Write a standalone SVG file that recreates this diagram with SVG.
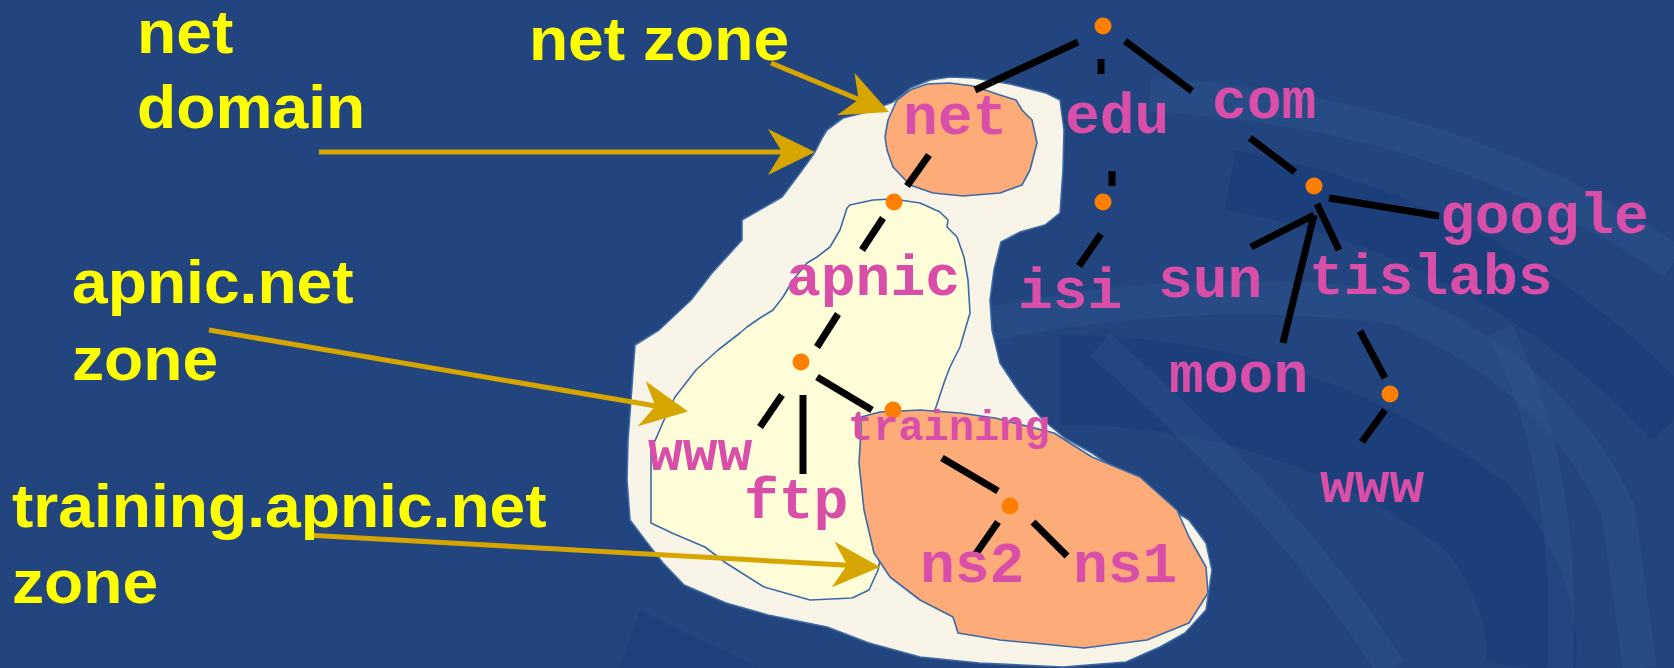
<svg xmlns="http://www.w3.org/2000/svg" width="1674" height="668" viewBox="0 0 1674 668">
<style>
.lbl{font-family:"Liberation Sans",Arial,sans-serif;font-weight:bold;font-size:62px;fill:#ffff00}
.nm{font-family:"Liberation Mono","Courier New",monospace;font-weight:bold;font-size:58px;fill:#d84ea9}
.nms{font-family:"Liberation Mono","Courier New",monospace;font-weight:bold;font-size:42px;fill:#d84ea9}
.blob{stroke:#3d6aa5;stroke-width:1.6;stroke-linejoin:round}
.cream{fill:#f8f5e8}
.yel{fill:#fffed8}
.peach{fill:#fdab78}
.edge{stroke:#000;stroke-width:7;fill:none}
.dot{fill:#ff8000}
.arr{stroke:#d6a500;stroke-width:5;fill:none}
.lt{stroke:#3b6098;fill:none;opacity:0.24}
.dk{stroke:#153777;fill:none;opacity:0.4}
</style>
<defs>
<marker id="head" markerUnits="userSpaceOnUse" viewBox="0 0 48 48" markerWidth="48" markerHeight="48" refX="19" refY="24" orient="auto">
<path d="M47 24 L0 1 L14 24 L0 47 Z" fill="#d6a500"/>
</marker>
</defs>
<g id="background">
<rect width="1674" height="668" fill="#22457f"/>
<path class="dk" d="M1060 380 Q1300 380 1480 520 Q1540 600 1530 668" stroke-width="90"/>
<path class="dk" d="M1230 180 Q1500 230 1674 420" stroke-width="60"/>
<path class="lt" d="M980 326 Q1200 280 1400 308 Q1560 380 1618 510 L1640 668" stroke-width="34"/>
<path class="lt" d="M1150 95 Q1450 110 1674 262" stroke-width="34"/>
<path class="lt" d="M1100 345 Q1300 520 1390 668" stroke-width="30"/>
<path class="lt" d="M1500 330 Q1570 470 1560 668" stroke-width="26"/>
<path d="M620 668 L640 610 L700 640 L760 668 Z" fill="#163a79" opacity="0.4"/>
</g>
<g id="net-domain-zone">
<path class="blob cream" d="M815 152 L822 138 L827 130 L843 118 L867 112 L893 102 L910 88 L930 80 L950 77 L974 78 L1010 84 L1046 93 L1060 100 L1064 130 L1063 170 L1060 213 L1045 225 L1020 232 L1001 242 L994 270 L990 300 L992 330 L1000 363 L1020 393 L1043 420 L1065 438 L1092 453 L1125 475 L1161 503 L1189 520 L1206 543 L1212 570 L1206 610 L1185 633 L1160 647 L1126 662 L1063 667 L979 663 L920 657 L869 643 L827 627 L768 615 L726 603 L684 585 L663 563 L645 540 L630 520 L627 480 L628 440 L630 413 L635 345 L659 330 L691 300 L712 273 L742 240 L742 220 L782 197 L800 173 L808 162 Z"/>
</g>
<g id="apnic-zone">
<path class="blob yel" d="M847 208 L850 205 L873 200 L893 199 L920 203 L940 212 L948 220 L947 227 L957 237 L964 257 L968 280 L970 313 L960 347 L950 367 L945 380 L935 410 L920 460 L880 560 L878 570 L869 590 L852 598 L810 600 L764 587 L726 563 L705 547 L672 533 L651 523 L651 450 L664 420 L675 397 L696 370 L718 350 L740 333 L747 327 L760 318 L773 310 L783 297 L793 280 L807 263 L817 257 L830 247 L840 230 Z"/>
</g>
<g id="net-zone">
<path class="blob peach" d="M885 137 L888 120 L897 100 L910 90 L927 84 L950 83 L973 86 L1000 95 L1016 100 L1022 110 L1032 120 L1037 143 L1030 170 L1022 185 L1000 193 L963 196 L933 193 L910 185 L893 167 L887 150 Z"/>
</g>
<g id="training-zone">
<path class="blob peach" d="M861 430 L861 417 L880 412 L920 410 L960 413 L995 418 L1054 433 L1092 457 L1140 477 L1177 510 L1189 537 L1206 567 L1208 593 L1189 623 L1147 640 L1084 648 L1000 640 L958 633 L953 617 L920 600 L890 577 L874 553 L864 510 L859 463 Z"/>
</g>
<g id="connectors">
<line class="edge" x1="975" y1="90" x2="1078" y2="42"/>
<line class="edge" x1="1101" y1="59" x2="1101" y2="74"/>
<line class="edge" x1="1125" y1="41" x2="1192" y2="91"/>
<line class="edge" x1="929" y1="155" x2="907" y2="186"/>
<line class="edge" x1="1250" y1="138" x2="1295" y2="172"/>
<line class="edge" x1="1112" y1="171" x2="1112" y2="186"/>
<line class="edge" x1="1101" y1="234" x2="1079" y2="266"/>
<line class="edge" x1="883" y1="218" x2="862" y2="250"/>
<line class="edge" x1="1329" y1="198" x2="1439" y2="216"/>
<line class="edge" x1="1314" y1="215" x2="1251" y2="247"/>
<line class="edge" x1="1317" y1="204" x2="1339" y2="250"/>
<line class="edge" x1="1314" y1="215" x2="1283" y2="343"/>
<line class="edge" x1="1360" y1="331" x2="1385" y2="378"/>
<line class="edge" x1="1385" y1="410" x2="1362" y2="442"/>
<line class="edge" x1="838" y1="314" x2="817" y2="347"/>
<line class="edge" x1="782" y1="395" x2="760" y2="427"/>
<line class="edge" x1="803" y1="395" x2="803" y2="474"/>
<line class="edge" x1="817" y1="377" x2="872" y2="410"/>
<line class="edge" x1="942" y1="458" x2="998" y2="491"/>
<line class="edge" x1="998" y1="522" x2="975" y2="555"/>
<line class="edge" x1="1033" y1="522" x2="1067" y2="556"/>
<line class="arr" x1="319" y1="152" x2="787" y2="152" marker-end="url(#head)"/>
<line class="arr" x1="771" y1="63" x2="863.2" y2="101.3" marker-end="url(#head)"/>
<line class="arr" x1="209" y1="330" x2="660.4" y2="406.8" marker-end="url(#head)"/>
<line class="arr" x1="306" y1="535" x2="852.1" y2="565.4" marker-end="url(#head)"/>
</g>
<g id="dots">
<ellipse class="dot" cx="1103" cy="26" rx="8.5" ry="8.5"/>
<ellipse class="dot" cx="894" cy="202" rx="8.5" ry="8.5"/>
<ellipse class="dot" cx="1103" cy="202" rx="8.5" ry="8.5"/>
<ellipse class="dot" cx="1314" cy="186" rx="8.5" ry="8.5"/>
<ellipse class="dot" cx="1390" cy="394" rx="8.5" ry="8.5"/>
<ellipse class="dot" cx="801" cy="362" rx="8.5" ry="8.5"/>
<ellipse class="dot" cx="893" cy="410" rx="8.5" ry="8.5"/>
<ellipse class="dot" cx="1010" cy="506" rx="8.5" ry="8.5"/>
</g>
<g id="tree-labels">
<text class="nm" x="903" y="134">net</text>
<text class="nm" x="1065" y="133">edu</text>
<text class="nm" x="1212" y="118">com</text>
<text class="nm" x="1440" y="233">google</text>
<text class="nm" x="1018" y="308">isi</text>
<text class="nm" x="1158" y="297">sun</text>
<text class="nm" x="1309" y="294">tislabs</text>
<text class="nm" x="786" y="295">apnic</text>
<text class="nm" x="1169" y="392">moon</text>
<text class="nm" x="1320" y="502">www</text>
<text class="nms" x="848" y="440">training</text>
<text class="nm" x="920" y="582">ns2</text>
<text class="nm" x="1073" y="582">ns1</text>
<text class="nm" x="648" y="470">www</text>
<text class="nm" x="744" y="518">ftp</text>
</g>
<g id="zone-labels" transform="scale(1.035,1)">
<text class="lbl" x="132.4" y="53">net</text>
<text class="lbl" x="132.4" y="128">domain</text>
<text class="lbl" x="511" y="60">net zone</text>
<text class="lbl" x="69.6" y="303">apnic.net</text>
<text class="lbl" x="69.6" y="380">zone</text>
<text class="lbl" x="11.6" y="527">training.apnic.net</text>
<text class="lbl" x="11.6" y="603">zone</text>
</g>
</svg>
